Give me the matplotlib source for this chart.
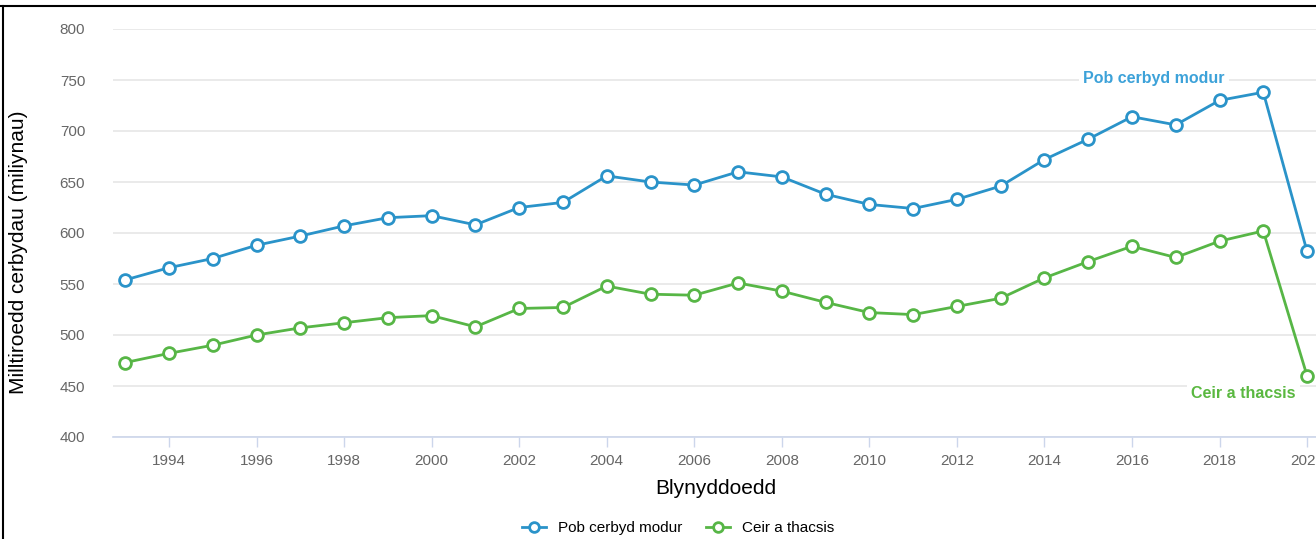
import matplotlib
matplotlib.use("Agg")
import matplotlib.pyplot as plt
from matplotlib.lines import Line2D

plt.rcParams["font.family"] = ["Liberation Sans", "DejaVu Sans"]

years = list(range(1993, 2021))
pob_cerbyd = [554, 566, 575, 588, 597, 607, 615, 617, 608, 625, 630, 656, 650, 647,
              660, 655, 638, 628, 624, 633, 646, 672, 692, 714, 706, 730, 738, 582]
ceir_tacsis = [473, 482, 490, 500, 507, 512, 517, 519, 508, 526, 527, 548, 540, 539,
               551, 543, 532, 522, 520, 528, 536, 556, 572, 587, 576, 592, 602, 460]
series_names = ["Pob cerbyd modur", "Ceir a thacsis"]
xticks = list(range(1994, 2021, 2))
yticks = list(range(400, 801, 50))

blue = "#2a93c9"
green = "#57b646"
blue_lbl = "#3da2d9"
green_lbl = "#5ab840"

W, H = 1316, 539
fig = plt.figure(figsize=(W / 100, H / 100), dpi=100)
ax = fig.add_axes([113 / W, 1 - 437 / H, (1318 - 113) / W, (437 - 29) / H])

for vals, col, name in [(pob_cerbyd, blue, series_names[0]), (ceir_tacsis, green, series_names[1])]:
    ax.plot(years, vals, color=col, lw=2.0, marker="o", ms=8.5, mfc="white",
            mec=col, mew=2.0, clip_on=False, zorder=3, label=name)

ax.set_xlim(1992.72, 2020.25)
ax.set_ylim(400, 800)
ax.set_yticks(yticks)
ax.set_xticks(xticks)
ax.set_xticklabels([str(x) for x in xticks])
for s in ["top", "right", "left"]:
    ax.spines[s].set_visible(False)
ax.spines["bottom"].set_color("#ccd6eb")
ax.spines["bottom"].set_linewidth(1.2)
ax.grid(axis="y", color="#e6e6e6", lw=1.2)
ax.set_axisbelow(True)
ax.tick_params(axis="y", length=0, labelsize=11, labelcolor="#666666", pad=20)
ax.tick_params(axis="x", length=7, width=1, color="#ccd6eb", labelsize=11,
               labelcolor="#666666", pad=5)

ax.set_ylabel("Milltiroedd cerbydau (miliynau)", fontsize=15, color="black")
ax.yaxis.set_label_coords(-(113 - 28) / (1318 - 113), (437 - 252) / 408)
ax.set_xlabel("Blynyddoedd", fontsize=15, color="black", labelpad=8)

ax.text(2016.5, 751, series_names[0], color=blue_lbl, fontsize=11.5, fontweight="bold",
        ha="center", va="center", zorder=4,
        bbox=dict(facecolor="white", edgecolor="none", pad=3))
ax.text(2018.54, 443, series_names[1], color=green_lbl, fontsize=11.5, fontweight="bold",
        ha="center", va="center", zorder=4,
        bbox=dict(facecolor="white", edgecolor="none", pad=3))

handles = [Line2D([0], [0], color=blue, lw=2, marker="o", ms=7, mfc="white", mec=blue, mew=2),
           Line2D([0], [0], color=green, lw=2, marker="o", ms=7, mfc="white", mec=green, mew=2)]
fig.legend(handles, series_names, loc="center", bbox_to_anchor=(678 / W, 1 - 528 / H),
           ncol=2, frameon=False, fontsize=11, handlelength=1.6, columnspacing=1.5,
           handletextpad=0.8)

# frame lines at top and left
fig.add_artist(Line2D([0, 1], [1 - 6 / H, 1 - 6 / H], color="black", lw=1.5, transform=fig.transFigure))
fig.add_artist(Line2D([3 / W, 3 / W], [0, 1 - 6 / H], color="black", lw=1.5, transform=fig.transFigure))

fig.savefig("out.png", dpi=100)
